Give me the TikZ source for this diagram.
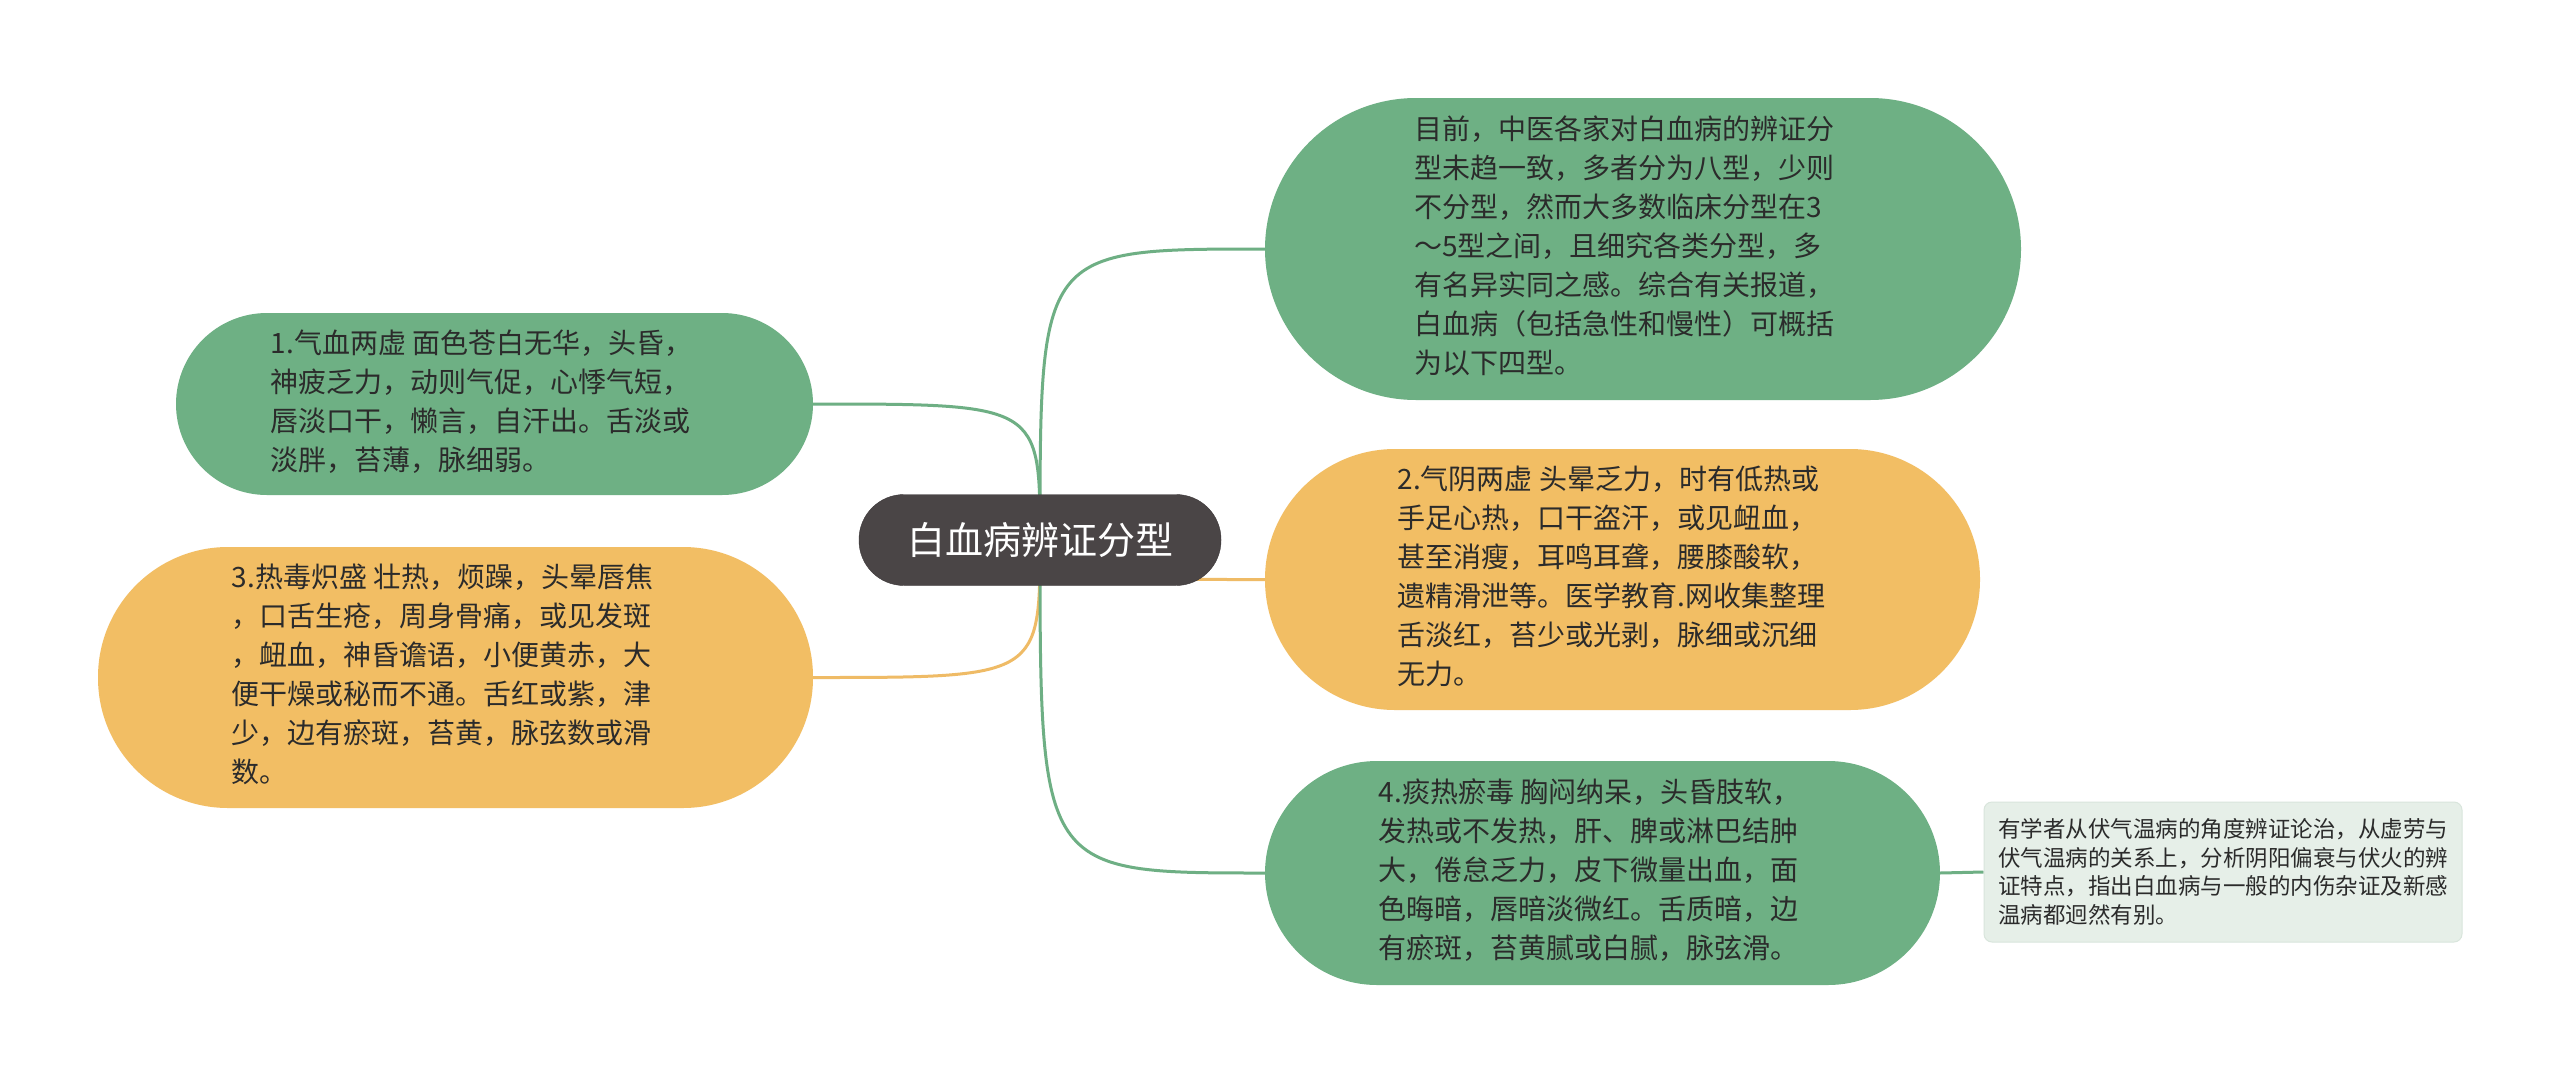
\documentclass[tikz,border=0pt]{standalone}
\usepackage{fontspec}
\setmainfont{Noto Sans CJK SC}
\usetikzlibrary{backgrounds}
\definecolor{gfill}{HTML}{6EB084}
\definecolor{ofill}{HTML}{F2BE64}
\definecolor{rootfill}{HTML}{4A4546}
\definecolor{notefill}{HTML}{E6EFE8}
\definecolor{noteline}{HTML}{D9E5DC}
\definecolor{txt}{HTML}{2B2B2B}
\definecolor{gline}{HTML}{6EAF84}
\definecolor{oline}{HTML}{EFBB66}
\newcommand{\padlines}[2]{\begin{tabular}{@{}l@{\hspace{#1}}}#2\end{tabular}}
\begin{document}
\begin{tikzpicture}[x=1pt,y=-1pt,
  topicbox/.style={text=txt, inner sep=0pt, font=\fontsize{28pt}{39pt}\selectfont},
  greenbox/.style={topicbox, fill=gfill},
  orangebox/.style={topicbox, fill=ofill},
  rootbox/.style={fill=rootfill, draw=rootfill!80!black, text=white, inner sep=0pt, font=\fontsize{38pt}{44pt}\selectfont},
  notebox/.style={fill=notefill, draw=noteline, line width=1pt, text=txt, align=left, inner sep=0pt, rounded corners=8pt, font=\fontsize{22.5pt}{28.5pt}\selectfont},
  gconn/.style={draw=gline, line width=3pt},
  oconn/.style={draw=oline, line width=3pt}]
\useasboundingbox (0,0) rectangle (2560,1082);

\node[rootbox, minimum width=362pt, minimum height=91pt, rounded corners=45pt] (root) at (1040,540) {白血病辨证分型};

\node[greenbox, minimum width=756pt, minimum height=302pt, rounded corners=151pt] (n0) at (1643,249)
{\padlines{38pt}{目前，中医各家对白血病的辨证分\\
型未趋一致，多者分为八型，少则\\
不分型，然而大多数临床分型在3\\
～5型之间，且细究各类分型，多\\
有名异实同之感。综合有关报道，\\
白血病（包括急性和慢性）可概括\\
为以下四型。}};

\node[greenbox, minimum width=637pt, minimum height=182pt, rounded corners=91pt] (n1) at (494.5,404)
{\padlines{26pt}{1.气血两虚 面色苍白无华，头昏，\\
神疲乏力，动则气促，心悸气短，\\
唇淡口干，懒言，自汗出。舌淡或\\
淡胖，苔薄，脉细弱。}};

\node[orangebox, minimum width=715pt, minimum height=261pt, rounded corners=130pt] (n3) at (455.5,677.5)
{\padlines{26pt}{3.热毒炽盛 壮热，烦躁，头晕唇焦\\
，口舌生疮，周身骨痛，或见发斑\\
，衄血，神昏谵语，小便黄赤，大\\
便干燥或秘而不通。舌红或紫，津\\
少，边有瘀斑，苔黄，脉弦数或滑\\
数。}};

\node[orangebox, minimum width=715pt, minimum height=261pt, rounded corners=130pt] (n2) at (1622.5,579.5)
{\padlines{22pt}{2.气阴两虚 头晕乏力，时有低热或\\
手足心热，口干盗汗，或见衄血，\\
甚至消瘦，耳鸣耳聋，腰膝酸软，\\
遗精滑泄等。医学教育.网收集整理\\
舌淡红，苔少或光剥，脉细或沉细\\
无力。}};

\node[greenbox, minimum width=675pt, minimum height=224pt, rounded corners=112pt] (n4) at (1602.5,873)
{\padlines{26pt}{4.痰热瘀毒 胸闷纳呆，头昏肢软，\\
发热或不发热，肝、脾或淋巴结肿\\
大，倦怠乏力，皮下微量出血，面\\
色晦暗，唇暗淡微红。舌质暗，边\\
有瘀斑，苔黄腻或白腻，脉弦滑。}};

\node[notebox, minimum width=478pt, minimum height=140pt] (note) at (2223,872)
{有学者从伏气温病的角度辨证论治，从虚劳与\\
伏气温病的关系上，分析阴阳偏衰与伏火的辨\\
证特点，指出白血病与一般的内伤杂证及新感\\
温病都迥然有别。};

\begin{scope}[on background layer]
\fill[white] (0,0) rectangle (2560,1082);
\draw[gconn] (root.center) .. controls (root.center |- n0.west) .. (n0.west);
\draw[gconn] (root.center) .. controls (root.center |- n1.east) .. (n1.east);
\draw[oconn] (root.center) .. controls (root.center |- n2.west) .. (n2.west);
\draw[oconn] (root.center) .. controls (root.center |- n3.east) .. (n3.east);
\draw[gconn] (root.center) .. controls (root.center |- n4.west) .. (n4.west);
\draw[gconn] (n4.east) -- (note.west);
\end{scope}
\end{tikzpicture}
\end{document}
